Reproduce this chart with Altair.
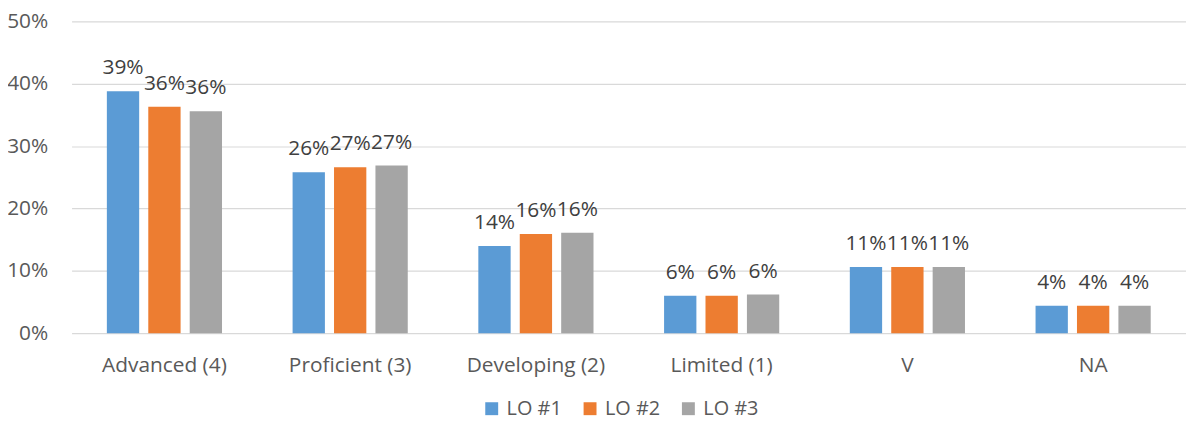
import altair as alt
import pandas as pd

categories = ["Advanced (4)", "Proficient (3)", "Developing (2)", "Limited (1)", "V", "NA"]
series = ["LO #1", "LO #2", "LO #3"]
lo1 = [0.388, 0.258, 0.140, 0.060, 0.106, 0.044]
lo2 = [0.363, 0.266, 0.159, 0.060, 0.106, 0.044]
lo3 = [0.356, 0.269, 0.161, 0.062, 0.106, 0.044]
colors = ["#5B9BD5", "#ED7D31", "#A5A5A5"]
y_ticks = [0, 0.1, 0.2, 0.3, 0.4, 0.5]

rows = []
for s, vals in zip(series, [lo1, lo2, lo3]):
    for c, v in zip(categories, vals):
        rows.append({"category": c, "series": s, "value": v})
df = pd.DataFrame(rows)

FONT = "Open Sans"

base = alt.Chart(df).encode(
    x=alt.X("category:N", sort=categories,
            scale=alt.Scale(paddingInner=0.38, paddingOuter=0.19),
            axis=alt.Axis(title=None, labelAngle=0, domain=False, ticks=False, tickSize=0,
                          labelPadding=22, labelFontSize=21, labelColor="#595959",
                          labelFont=FONT, labelLimit=300)),
    xOffset=alt.XOffset("series:N", sort=series,
                        scale=alt.Scale(paddingInner=0.22, paddingOuter=0)),
    y=alt.Y("value:Q",
            scale=alt.Scale(domain=[0, 0.5], nice=False),
            axis=alt.Axis(title=None, values=y_ticks, format=".0%", domain=False,
                          ticks=False, tickSize=0, labelPadding=24, labelFontSize=21,
                          labelColor="#595959", labelFont=FONT,
                          gridColor="#D9D9D9", gridWidth=1.2)),
)

bars = base.mark_bar().encode(
    color=alt.Color("series:N", sort=series,
                    scale=alt.Scale(domain=series, range=colors),
                    legend=alt.Legend(title=None, orient="none", direction="horizontal",
                                      legendX=413, legendY=380, symbolType="square",
                                      symbolSize=169, symbolStrokeWidth=0,
                                      labelFontSize=20, labelColor="#595959",
                                      labelFont=FONT, labelOffset=5,
                                      columnPadding=18, padding=0))
)

labels = base.mark_text(baseline="alphabetic", dy=-17, fontSize=21, font=FONT,
                        color="#404040").encode(
    text=alt.Text("value:Q", format=".0%")
)

chart = alt.layer(bars, labels).properties(
    width=1122, height=314,
    autosize=alt.AutoSizeParams(type="none"),
    padding={"left": 64, "top": 12, "right": 0, "bottom": 93},
).configure_view(stroke=None)

chart.save("out.html", embed_options={"renderer": "svg", "actions": False})
